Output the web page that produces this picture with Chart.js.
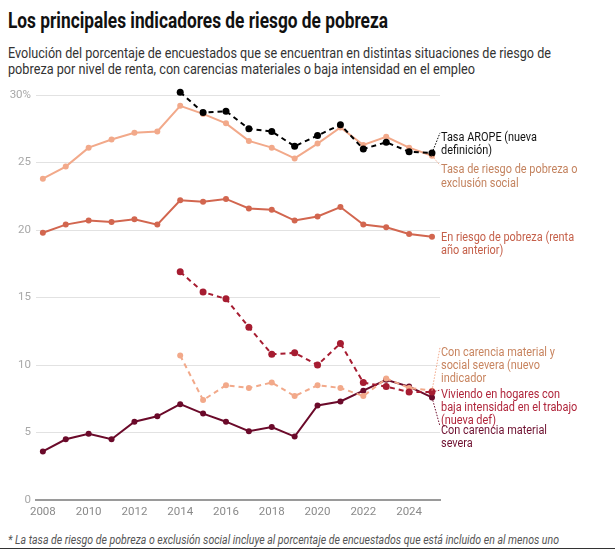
<!DOCTYPE html>
<html>
<head>
<meta charset="utf-8">
<script src="https://cdn.jsdelivr.net/npm/chart.js@4.4.1/dist/chart.umd.min.js"></script>
<style>
  body { margin: 0; width: 615px; height: 550px; background: #fff; font-family: Roboto, "Noto Sans", sans-serif; overflow: hidden; position: relative; }
  .fit { position: absolute; left: 8px; white-space: nowrap; transform-origin: 0 0; }
  #title { top: 8px; font-size: 22px; font-weight: 700; color: #111; }
  #sub1 { top: 45px; font-size: 14px; color: #333; }
  #sub2 { top: 61px; font-size: 14px; color: #333; }
  #note { top: 533px; font-size: 12px; font-style: italic; color: #555; }
  #rule { position: absolute; left: 0; top: 548px; width: 615px; height: 1px; background: #333; }
  #wrap { position: absolute; left: 0; top: 80px; width: 615px; height: 445px; }
</style>
</head>
<body>
<div class="fit" id="title">Los principales indicadores de riesgo de pobreza</div>
<div class="fit" id="sub1">Evolución del porcentaje de encuestados que se encuentran en distintas situaciones de riesgo de</div>
<div class="fit" id="sub2">pobreza por nivel de renta, con carencias materiales o baja intensidad en el empleo</div>
<div id="wrap"><canvas id="chart"></canvas></div>
<div class="fit" id="note">* La tasa de riesgo de pobreza o exclusión social incluye al porcentaje de encuestados que está incluido en al menos uno</div>
<div id="rule"></div>
<script>
// values (%)
const years = [2008, 2009, 2010, 2011, 2012, 2013, 2014, 2015, 2016, 2017, 2018, 2019, 2020, 2021, 2022, 2023, 2024, 2025];
const tasaRiesgo = [23.8, 24.7, 26.1, 26.7, 27.2, 27.3, 29.2, 28.6, 27.9, 26.6, 26.1, 25.3, 26.4, 27.6, 26.3, 26.9, 26.1, 25.5];
const arope = [null, null, null, null, null, null, 30.2, 28.7, 28.8, 27.5, 27.3, 26.2, 27.0, 27.8, 26.0, 26.5, 25.8, 25.7];
const riesgoRenta = [19.8, 20.4, 20.7, 20.6, 20.8, 20.4, 22.2, 22.1, 22.3, 21.6, 21.5, 20.7, 21.0, 21.7, 20.4, 20.2, 19.7, 19.5];
const bajaIntensidad = [null, null, null, null, null, null, 16.9, 15.4, 14.9, 12.8, 10.8, 10.9, 10.0, 11.6, 8.7, 8.4, 8.0, 8.0];
const carenciaSocial = [null, null, null, null, null, null, 10.7, 7.4, 8.5, 8.3, 8.7, 7.7, 8.5, 8.3, 7.7, 9.0, 8.3, 8.1];
const carenciaSevera = [3.6, 4.5, 4.9, 4.5, 5.8, 6.2, 7.1, 6.4, 5.8, 5.1, 5.4, 4.7, 7.0, 7.3, 8.1, 8.9, 8.4, 7.6];

const xTicks = [2008, 2010, 2012, 2014, 2016, 2018, 2020, 2022, 2024];
const yTicks = [0, 5, 10, 15, 20, 25, 30];

// series: name lines, values, colours, label anchor (value of first text baseline)
const series = [
  { lines: ['Tasa AROPE (nueva', 'definición)'], values: arope, color: '#000000', text: '#111111', dash: [5, 4], radius: 3.5, labelAt: 26.6, leader: true },
  { lines: ['Tasa de riesgo de pobreza o', 'exclusión social'], values: tasaRiesgo, color: '#f2a98a', text: '#c4835f', dash: [], radius: 3, labelAt: 24.2, leader: true },
  { lines: ['En riesgo de pobreza (renta', 'año anterior)'], values: riesgoRenta, color: '#d2664f', text: '#c5604a', dash: [], radius: 3, labelAt: 19.2, leader: false },
  { lines: ['Viviendo en hogares con', 'baja intensidad en el trabajo', '(nueva def)'], values: bajaIntensidad, color: '#a61c31', text: '#b0253b', dash: [5, 4], radius: 3.5, labelAt: 7.55, leader: true },
  { lines: ['Con carencia material y', 'social severa (nuevo', 'indicador'], values: carenciaSocial, color: '#f2a98a', text: '#c8845f', dash: [5, 4], radius: 3, labelAt: 10.7, leader: true },
  { lines: ['Con carencia material', 'severa'], values: carenciaSevera, color: '#6b0a2a', text: '#6e1030', dash: [], radius: 3, labelAt: 4.87, leader: true }
];

function toPoints(values) {
  let pts = [];
  for (let i = 0; i < years.length; i++) {
    if (values[i] != null) pts.push({ x: years[i], y: values[i] });
  }
  return pts;
}

const endLabels = {
  id: 'endLabels',
  afterDatasetsDraw(chart) {
    let ctx = chart.ctx;
    let ys = chart.scales.y;
    let tx = chart.chartArea.right + 1;
    ctx.save();
    ctx.font = '12px Roboto, "Noto Sans", sans-serif';
    ctx.textBaseline = 'alphabetic';
    series.forEach((s, i) => {
      let meta = chart.getDatasetMeta(i);
      let last = meta.data[meta.data.length - 1];
      let base = ys.getPixelForValue(s.labelAt);
      if (s.leader) {
        ctx.strokeStyle = s.color;
        ctx.lineWidth = 1;
        ctx.setLineDash([1.5, 1.5]);
        ctx.beginPath();
        ctx.moveTo(last.x, last.y);
        ctx.lineTo(tx - 1, base - 8);
        ctx.stroke();
      }
      ctx.fillStyle = s.text;
      s.lines.forEach((l, k) => {
        ctx.save();
        ctx.translate(tx, base + k * 13.2);
        ctx.scale(0.91, 1);
        ctx.fillText(l, 0, 0);
        ctx.restore();
      });
    });
    ctx.restore();
  }
};

const datasets = series.map(s => ({
  data: toPoints(s.values),
  borderColor: s.color,
  backgroundColor: s.color,
  borderWidth: 2,
  borderDash: s.dash,
  pointRadius: s.radius,
  pointBorderWidth: 0,
  pointBackgroundColor: s.color,
  tension: 0
}));

const chart = new Chart(document.getElementById('chart'), {
  type: 'line',
  data: { datasets: datasets },
  options: {
    responsive: true,
    maintainAspectRatio: false,
    animation: false,
    clip: false,
    layout: { padding: { top: 15, right: 175, bottom: 0, left: 0 } },
    plugins: { legend: { display: false }, tooltip: { enabled: false } },
    scales: {
      x: {
        type: 'linear',
        min: 2007.7,
        max: 2025.35,
        afterBuildTicks: (scale) => { scale.ticks = xTicks.map(v => ({ value: v })); },
        afterFit: (scale) => { scale.height = 25; },
        grid: { display: false, drawTicks: false },
        border: { display: true, color: '#9a9a9a', width: 2 },
        ticks: { color: '#8a8a8a', font: { family: 'Roboto', size: 11.5 }, padding: 5, maxRotation: 0, autoSkip: false, callback: v => String(v) }
      },
      y: {
        min: 0,
        max: 30,
        afterBuildTicks: (scale) => { scale.ticks = yTicks.map(v => ({ value: v })); },
        afterFit: (scale) => { scale.width = 36; },
        grid: { color: '#e2e2e2', lineWidth: 1, drawTicks: false },
        border: { display: false },
        ticks: { color: '#a8a8a8', font: { family: 'Roboto', size: 11.5 }, padding: 5, callback: v => v === 30 ? '30%' : String(v) }
      }
    }
  },
  plugins: [endLabels]
});

function fit(id, w) {
  let el = document.getElementById(id);
  el.style.transform = 'none';
  let cur = el.getBoundingClientRect().width;
  el.style.transform = 'scaleX(' + (w / cur) + ')';
}
document.fonts.ready.then(() => {
  fit('title', 380);
  fit('sub1', 543);
  fit('sub2', 467);
  fit('note', 551);
  chart.update();
});
</script>
</body>
</html>
